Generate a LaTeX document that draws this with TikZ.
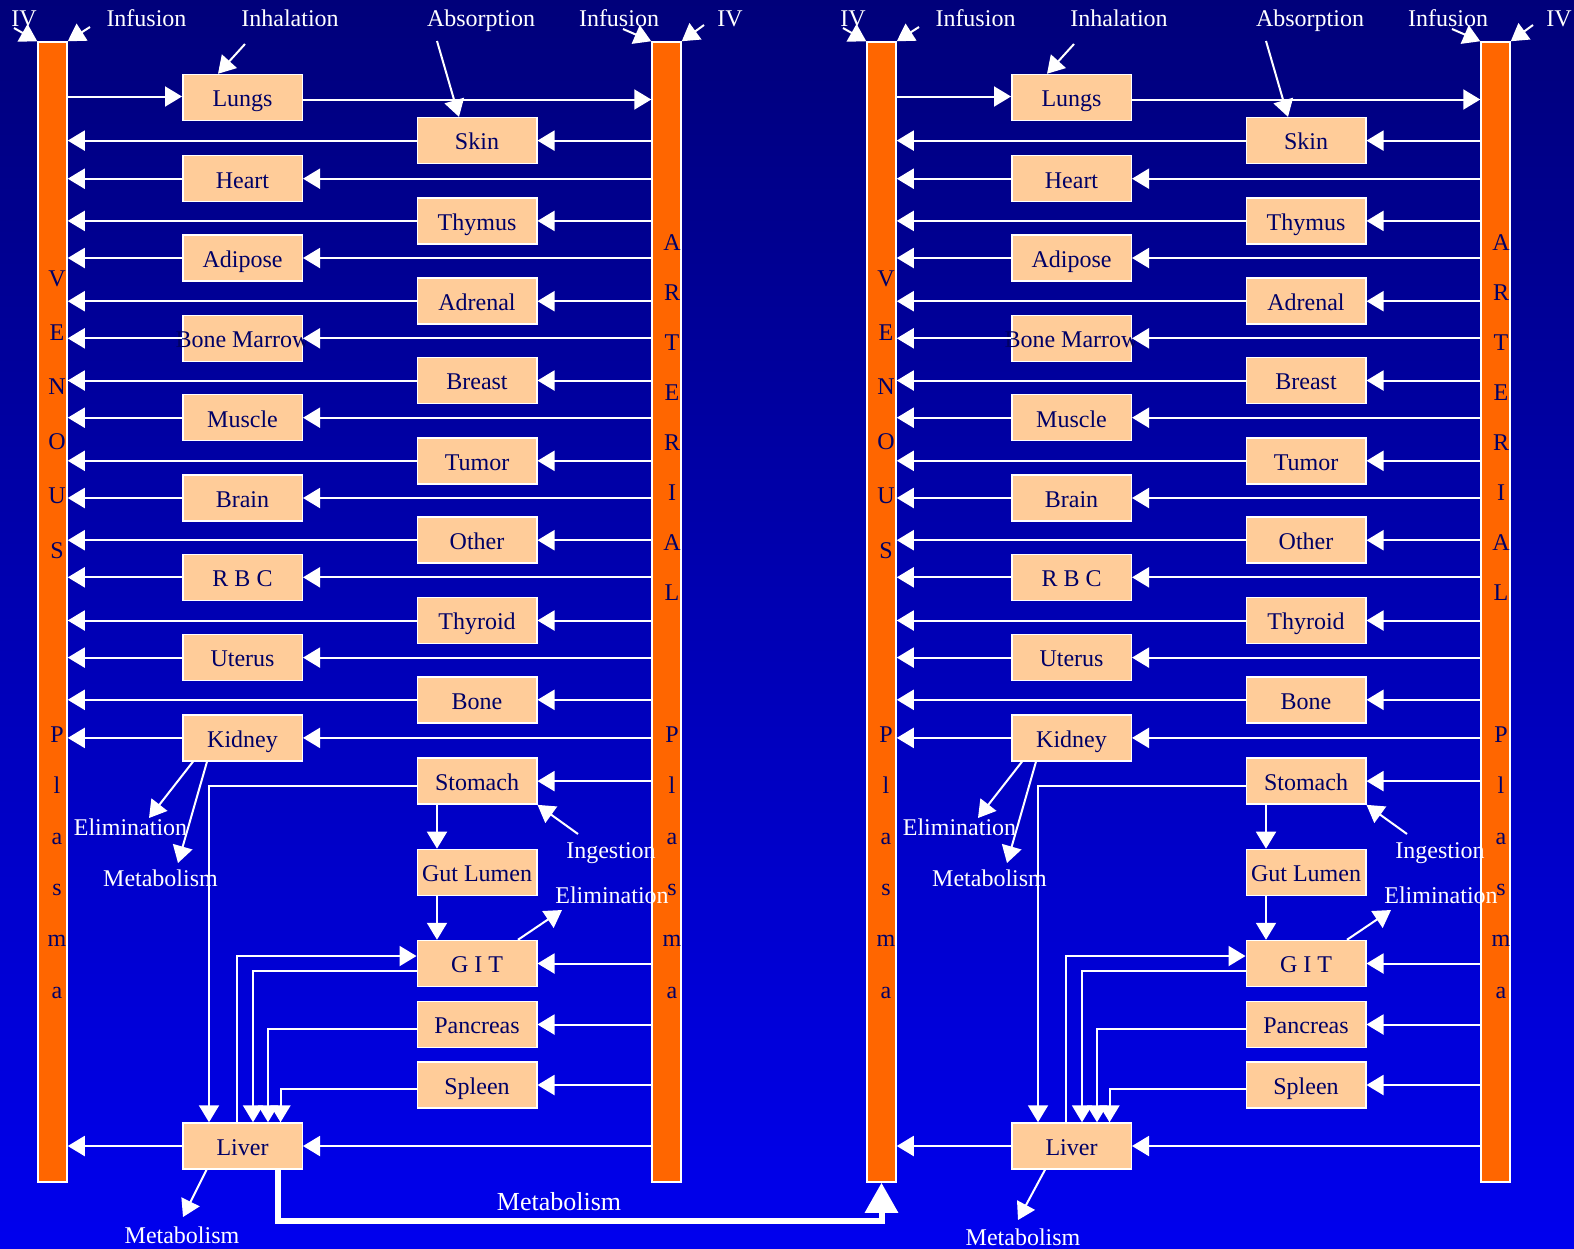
\documentclass[tikz,border=0pt]{standalone}
\usepackage{fontspec}
\setmainfont{Liberation Serif}
\usetikzlibrary{arrows.meta,calc}
\definecolor{boxfill}{HTML}{FFCC99}
\definecolor{boxtext}{HTML}{000066}
\definecolor{barfill}{HTML}{FF6600}
\definecolor{bgtop}{RGB}{0,0,122}
\definecolor{bgbot}{RGB}{0,0,238}
\tikzset{
  organ/.style={draw=white, line width=1.5pt, fill=boxfill, text=boxtext,
    minimum width=119.5pt, minimum height=46pt, inner sep=0pt,
    text height=18.6pt, text depth=0pt,
    font=\fontsize{24}{28}\selectfont},
  bar/.style={draw=white, line width=1.5pt, fill=barfill,
    minimum width=29pt, minimum height=1140pt, inner sep=0pt},
  lbl/.style={text=white, font=\fontsize{24}{28}\selectfont, inner sep=0pt,
    text height=16.8pt, text depth=0pt},
  bartext/.style={text=boxtext, font=\fontsize{24}{28}\selectfont, inner sep=0pt, anchor=base},
  flow/.style={draw=white, line width=2pt, -{Triangle[length=17pt,width=20pt]}},
  bigflow/.style={draw=white, line width=6pt, -{Triangle[length=30pt,width=32pt]}},
}
\newcommand\pkpanel[2]{%
\begin{scope}[xshift=#2pt, name prefix=#1-]
  \node[bar] (ven) at (52.5,612) {};
  \node[bar] (art) at (666.5,612) {};
  \foreach \c [count=\i from 0] in {V,E,N,O,U,S}
    \node[bartext] (venA\i) at (57,{286+54.4*\i}) {\c};
  \foreach \c [count=\i from 0] in {P,l,a,s,m,a}
    \node[bartext] (venB\i) at (57,{742+51.2*\i}) {\c};
  \foreach \c [count=\i from 0] in {A,R,T,E,R,I,A,L}
    \node[bartext] (artA\i) at (672,{250+50*\i}) {\c};
  \foreach \c [count=\i from 0] in {P,l,a,s,m,a}
    \node[bartext] (artB\i) at (672,{742+51.2*\i}) {\c};
  % left column
  \node[organ] (lungs)   at (242.5,97.5)  {Lungs};
  \node[organ] (heart)   at (242.5,178.7) {Heart};
  \node[organ] (adipose) at (242.5,258)   {Adipose};
  \node[organ] (marrow)  at (242.5,338.3) {\makebox[0pt]{Bone Marrow}};
  \node[organ] (muscle)  at (242.5,417.7) {Muscle};
  \node[organ] (brain)   at (242.5,498)   {Brain};
  \node[organ] (rbc)     at (242.5,577.3) {R B C};
  \node[organ] (uterus)  at (242.5,657.6) {Uterus};
  \node[organ] (kidney)  at (242.5,737.9) {Kidney};
  \node[organ] (liver)   at (242.5,1146)  {Liver};
  % right column
  \node[organ] (skin)     at (477,140.6)  {Skin};
  \node[organ] (thymus)   at (477,220.9)  {Thymus};
  \node[organ] (adrenal)  at (477,301.2)  {Adrenal};
  \node[organ] (breast)   at (477,380.5)  {Breast};
  \node[organ] (tumor)    at (477,460.8)  {Tumor};
  \node[organ] (other)    at (477,540.2)  {Other};
  \node[organ] (thyroid)  at (477,620.5)  {Thyroid};
  \node[organ] (bone)     at (477,699.8)  {Bone};
  \node[organ] (stomach)  at (477,781.1)  {Stomach};
  \node[organ] (gut)      at (477,872.4)  {Gut Lumen};
  \node[organ] (git)      at (477,963.5)  {G I T};
  \node[organ] (pancreas) at (477,1024.5) {Pancreas};
  \node[organ] (spleen)   at (477,1085)   {Spleen};
  % lungs
  \draw[flow] ([yshift=1pt]ven.east |- lungs.west) -- ([yshift=1pt]lungs.west);
  \draw[flow] ([yshift=-2pt]lungs.east) -- ([yshift=-2pt]art.west |- lungs.east);
  % through-flow organs
  \foreach \o in {heart,adipose,marrow,muscle,brain,rbc,uterus,kidney,liver,
                  skin,thymus,adrenal,breast,tumor,other,thyroid,bone} {
    \draw[flow] (art.west |- \o.east) -- (\o.east);
    \draw[flow] (\o.west) -- (ven.east |- \o.west);
  }
  \foreach \o in {stomach,git,pancreas,spleen}
    \draw[flow] (art.west |- \o.east) -- (\o.east);
  % splanchnic
  \draw[flow] ([xshift=-40pt]stomach.south) -- ([xshift=-40pt]gut.north);
  \draw[flow] ([xshift=-40pt]gut.south) -- ([xshift=-40pt]git.north);
  \draw[flow] ([yshift=-5pt]stomach.west) -| ([xshift=-33.5pt]liver.north);
  \draw[flow] ([xshift=-5.5pt]liver.north) |- ([yshift=7.5pt]git.west);
  \draw[flow] ([yshift=-7.5pt]git.west) -| ([xshift=10.5pt]liver.north);
  \draw[flow] ([yshift=-4.5pt]pancreas.west) -| ([xshift=25.5pt]liver.north);
  \draw[flow] ([yshift=-4pt]spleen.west) -| ([xshift=38pt]liver.north);
  % inputs at the top
  \node[lbl] (ivL) at (24,18) {IV};
  \coordinate (ivLt) at (14,28);
  \draw[flow] (ivLt) -- (ven.north west);
  \node[lbl] (infL) at (146.5,18) {Infusion};
  \coordinate (infLt) at (90,27);
  \draw[flow] (infLt) -- (ven.north east);
  \node[lbl] (inh) at (290,18) {Inhalation};
  \coordinate (inht) at (245,44);
  \draw[flow] (inht) -- ([xshift=-24.5pt]lungs.north);
  \node[lbl] (absp) at (481,18) {Absorption};
  \coordinate (abspt) at (437,41);
  \draw[flow] (abspt) -- ([xshift=-18pt]skin.north);
  \node[lbl] (infR) at (619,18) {Infusion};
  \coordinate (infRt) at (623,29);
  \draw[flow] (infRt) -- (art.north west);
  \node[lbl] (ivR) at (730,18) {IV};
  \coordinate (ivRt) at (704,25);
  \draw[flow] (ivRt) -- (art.north east);
  % kidney outputs
  \coordinate (kelh) at (149,818);
  \draw[flow] ([xshift=-49.5pt]kidney.south) -- (kelh);
  \node[lbl] (kel) at (130.5,827) {Elimination};
  \coordinate (kmeh) at (178,863);
  \draw[flow] ([xshift=-35.5pt]kidney.south) -- (kmeh);
  \node[lbl] (kme) at (160.5,878) {Metabolism};
  % ingestion / GIT elimination
  \coordinate (ingt) at (578,834);
  \draw[flow] (ingt) -- (stomach.south east);
  \node[lbl] (ing) at (611,850) {Ingestion};
  \coordinate (gelh) at (562,910);
  \draw[flow] ([xshift=41pt]git.north) -- (gelh);
  \node[lbl] (gel) at (612,895) {Elimination};
\end{scope}}

\begin{document}
\begin{tikzpicture}[x=1pt,y=-1pt]
  \useasboundingbox (0,0) rectangle (1574,1248);
  \shade[top color=bgtop, bottom color=bgbot] (0,0) rectangle (1574,1248);
  \pkpanel{L}{0}
  \pkpanel{R}{829}
  % liver metabolism, left panel
  \coordinate (L-lmh) at (183,1217);
  \draw[flow] ([xshift=-36pt]L-liver.south) -- (L-lmh);
  \node[lbl] (L-lme) at (182,1235) {Metabolism};
  % liver metabolism, right panel
  \coordinate (R-lmh) at (1018,1220);
  \draw[flow] ([xshift=-26.5pt]R-liver.south) -- (R-lmh);
  \node[lbl] (R-lme) at (1023,1237) {Metabolism};
  % transfer between the two panels
  \draw[bigflow] ([xshift=35pt]L-liver.south) -- ++(0,51) -| (R-ven.south);
  \node[lbl, font=\fontsize{26}{31}\selectfont, text height=18pt] (xfer) at (559,1201) {Metabolism};
\end{tikzpicture}
\end{document}
